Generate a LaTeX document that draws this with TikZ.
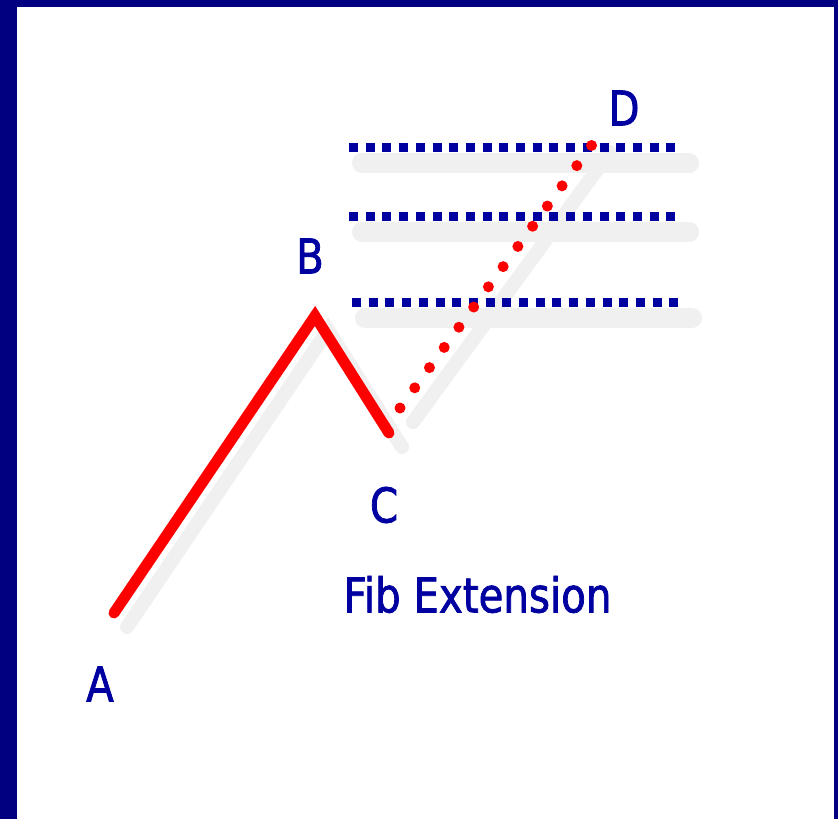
\documentclass[tikz,border=0pt]{standalone}
\usepackage{fontspec}
\newfontfamily\labelfont[FakeStretch=0.84,FakeBold=1.5]{DejaVu Sans}
\definecolor{framecol}{RGB}{0,0,128}
\definecolor{inkcol}{RGB}{0,0,160}
\definecolor{redcol}{RGB}{255,0,0}
\definecolor{shadowgray}{RGB}{240,240,240}
\tikzset{
  lbl/.style={font=\labelfont\fontsize{48}{48}\selectfont, text=inkcol, inner sep=0pt},
  level/.style={draw=inkcol, line width=9pt, dash pattern=on 9pt off 7.7pt},
  levelshadow/.style={draw=shadowgray, line width=20pt, line cap=round},
  wave/.style={draw=redcol, line width=11pt, line cap=round, line join=miter},
  waveshadow/.style={draw=shadowgray, line width=14pt, line cap=round},
  projection/.style={draw=redcol, line width=11pt, line cap=round, dash pattern=on 0pt off 25pt},
}
\begin{document}
\begin{tikzpicture}[x=1pt, y=-1pt]
\useasboundingbox (0,0) rectangle (838,819);
\fill[framecol] (0,0) rectangle (838,819);
\fill[white] (17,7) rectangle (834,819);

% key points
\coordinate (A) at (114,613);
\coordinate (B) at (315,316);
\coordinate (C) at (389,433);
\coordinate (C2) at (400,408);
\coordinate (D) at (597,138);
% level lines
\coordinate (L1a) at (349,147); \coordinate (L1b) at (676,147);
\coordinate (L2a) at (349,216); \coordinate (L2b) at (676,216);
\coordinate (L3a) at (352,302); \coordinate (L3b) at (679,302);

% shadows
\draw[levelshadow] ([shift={(13,16)}]L1a) -- ([shift={(13,16)}]L1b);
\draw[levelshadow] ([shift={(13,16)}]L2a) -- ([shift={(13,16)}]L2b);
\draw[levelshadow] ([shift={(13,16)}]L3a) -- ([shift={(13,16)}]L3b);
\draw[waveshadow] ([shift={(13,14)}]A) -- ([shift={(13,14)}]B) -- ([shift={(13,14)}]C);
\draw[waveshadow] ([shift={(13,14)}]C2) -- ([shift={(13,14)}]D);

% level lines
\draw[level] (L1a) -- (L1b);
\draw[level] (L2a) -- (L2b);
\draw[level] (L3a) -- (L3b);

% wave
\draw[wave] (A) -- (B) -- (C);
\draw[projection] (C2) -- (D);

% labels
\node[lbl] (la) at (100,684) {A};
\node[lbl] (lb) at (310,256) {B};
\node[lbl] (lc) at (384,505) {C};
\node[lbl] (ld) at (624,108) {D};
\node[lbl] (title) at (477.5,594.5) {Fib Extension};
\end{tikzpicture}
\end{document}
